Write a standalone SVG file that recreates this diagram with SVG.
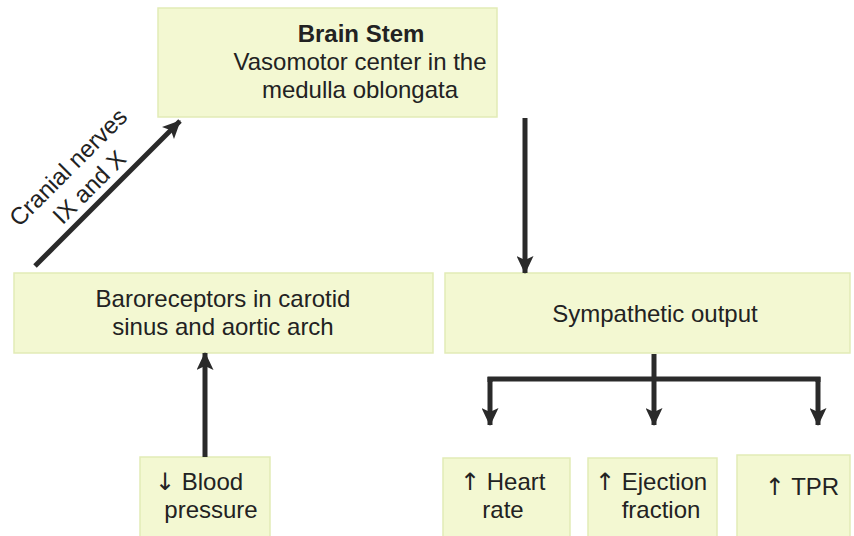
<svg xmlns="http://www.w3.org/2000/svg" width="854" height="536" viewBox="0 0 854 536">
<defs>
<style>
.box{fill:#f3f8d2;stroke:#e2ebb6;stroke-width:1.5}
.t{font-family:"Liberation Sans",Arial,sans-serif;font-size:24px;fill:#222;text-anchor:middle}
.s{font-family:"Liberation Sans",Arial,sans-serif;font-size:24px;fill:#222}
.ar{font-family:"DejaVu Sans",sans-serif}
.b{font-weight:bold}
.c{stroke:#2a2a2a;stroke-width:5;fill:none}
</style>
<marker id="ah" viewBox="0 0 18 17" refX="17" refY="8.5" markerWidth="3.6" markerHeight="3.4" orient="auto" markerUnits="strokeWidth">
<path d="M0,0 L18,8.5 L0,17 L4,8.5 z" fill="#2a2a2a"/>
</marker>
</defs>
<rect width="854" height="536" fill="#fff"/>
<g id="brainstem">
<rect class="box" x="158" y="8" width="339" height="109"/>
<text class="t b" x="361" y="42">Brain Stem</text>
<text class="t" x="360" y="70">Vasomotor center in the</text>
<text class="t" x="360" y="98">medulla oblongata</text>
</g>
<g id="baroreceptors">
<rect class="box" x="14" y="273" width="419" height="80"/>
<text class="t" x="223" y="307">Baroreceptors in carotid</text>
<text class="t" x="223" y="335">sinus and aortic arch</text>
</g>
<g id="sympathetic">
<rect class="box" x="445" y="273" width="405" height="80"/>
<text class="t" x="655" y="322">Sympathetic output</text>
</g>
<g id="bloodpressure">
<rect class="box" x="140" y="457" width="130" height="85"/>
<text class="s" x="155" y="490"><tspan class="ar">↓</tspan> Blood</text>
<text class="t" x="211" y="518">pressure</text>
</g>
<g id="heartrate">
<rect class="box" x="443" y="458" width="127" height="85"/>
<text class="s" x="460" y="490"><tspan class="ar">↑</tspan> Heart</text>
<text class="t" x="503" y="518">rate</text>
</g>
<g id="ejection">
<rect class="box" x="588" y="458" width="129" height="85"/>
<text class="s" x="595" y="490"><tspan class="ar">↑</tspan> Ejection</text>
<text class="t" x="661" y="518">fraction</text>
</g>
<g id="tpr">
<rect class="box" x="737" y="455" width="113" height="88"/>
<text class="t" x="802" y="495"><tspan class="ar">↑</tspan> TPR</text>
</g>
<g id="connectors">
<line class="c" x1="35" y1="266" x2="180" y2="121" marker-end="url(#ah)"/>
<line class="c" x1="525" y1="118" x2="525" y2="273" marker-end="url(#ah)"/>
<line class="c" x1="205" y1="457" x2="205" y2="353" marker-end="url(#ah)"/>
<line class="c" x1="654" y1="354" x2="654" y2="379"/>
<polyline class="c" points="490,382 490,379 818,379 818,382"/>
<line class="c" x1="490" y1="377" x2="490" y2="425" marker-end="url(#ah)"/>
<line class="c" x1="818" y1="377" x2="818" y2="425" marker-end="url(#ah)"/>
<line class="c" x1="654" y1="379" x2="654" y2="425" marker-end="url(#ah)"/>
<text class="t" transform="translate(74,173) rotate(-45)">Cranial nerves</text>
<text class="t" transform="translate(95,193) rotate(-45)">IX and X</text>
</g>
</svg>
